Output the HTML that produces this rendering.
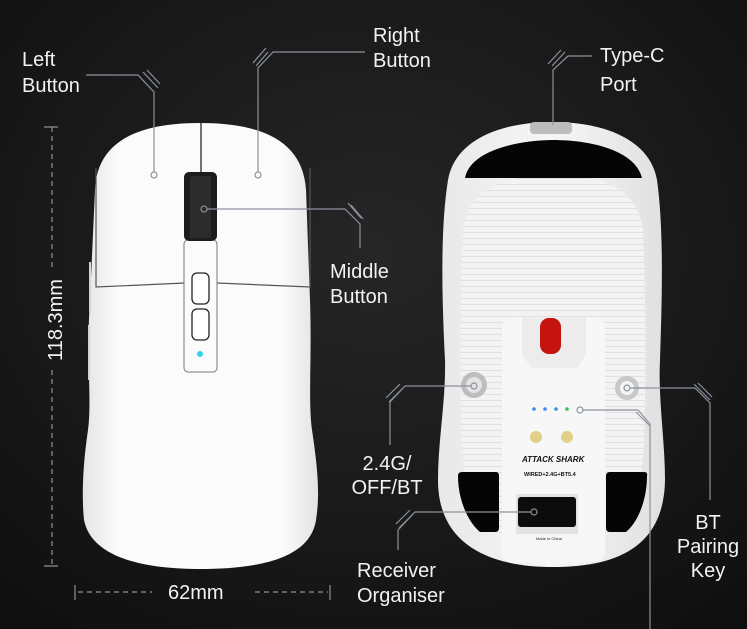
<!DOCTYPE html>
<html><head><meta charset="utf-8"><style>
html,body{margin:0;padding:0;background:#141414;}
svg{display:block}
text{font-family:"Liberation Sans",sans-serif;fill:#f2f2f2;font-size:20px}
</style></head><body>
<svg width="747" height="629" viewBox="0 0 747 629" xmlns="http://www.w3.org/2000/svg">
<defs>
<radialGradient id="bg" cx="0.5" cy="0.4" r="0.8">
<stop offset="0" stop-color="#262626"/><stop offset="1" stop-color="#0e0e0e"/></radialGradient>
<linearGradient id="lm" x1="0" x2="1"><stop offset="0" stop-color="#e4e4e4"/><stop offset="0.15" stop-color="#fbfbfb"/><stop offset="0.85" stop-color="#fbfbfb"/><stop offset="1" stop-color="#e2e2e2"/></linearGradient>
<linearGradient id="rm" x1="0" x2="1"><stop offset="0" stop-color="#e8e8e8"/><stop offset="0.5" stop-color="#f6f6f6"/><stop offset="1" stop-color="#e0e0e0"/></linearGradient>
<pattern id="stripes" width="10" height="6" patternUnits="userSpaceOnUse"><rect width="10" height="6" fill="#f3f3f3"/><rect y="4" width="10" height="1" fill="#e0e0e0"/></pattern>
</defs>
<rect width="747" height="629" fill="url(#bg)"/>

<!-- left mouse -->
<path d="M200 123 C140 123 97 140 95 190 L90 300 C86 360 92 400 88 430 C82 470 82 500 84 520 C92 560 150 569 200 569 C255 569 310 560 316 520 C320 495 318 470 312 430 C308 400 312 360 310 300 L306 190 C303 140 260 123 200 123 Z" fill="url(#lm)"/>
<path d="M96 168 L96 287 L185 283 M310 168 L310 287 L217 283" fill="none" stroke="#555" stroke-width="1.2"/>
<line x1="201" y1="123" x2="201" y2="172" stroke="#444" stroke-width="1.5"/>
<path d="M90 262 V312 M89 325 V380" stroke="#d4d4d4" stroke-width="2"/>
<rect x="184" y="240" width="33" height="132" rx="4" fill="#fbfbfb" stroke="#777" stroke-width="1"/>
<rect x="184" y="172" width="33" height="69" rx="5" fill="#1d1d1d"/>
<rect x="190" y="176" width="21" height="62" fill="#2c2c2c"/>
<rect x="192" y="273" width="17" height="31" rx="5" fill="#fff" stroke="#222" stroke-width="1.3"/>
<rect x="192" y="309" width="17" height="31" rx="5" fill="#fff" stroke="#222" stroke-width="1.3"/>
<circle cx="200" cy="354" r="3" fill="#2fd3e6"/>

<!-- right mouse -->
<path d="M553 122 C500 122 455 140 448 180 C440 230 442 300 445 360 C446 400 438 440 438 480 C438 545 490 567 553 567 C620 567 664 545 665 480 C665 440 658 400 660 360 C662 300 664 230 657 180 C650 140 605 122 553 122 Z" fill="url(#rm)"/>
<path d="M553 175 C500 175 468 190 463 230 C460 300 460 380 462 440 C464 520 500 550 553 550 C606 550 642 520 644 440 C646 380 646 300 643 230 C638 190 606 175 553 175 Z" fill="url(#stripes)"/>
<rect x="530" y="122" width="42" height="12" rx="4" fill="#bdbdbd"/>
<path d="M465 178 C470 150 520 140 553 140 C590 140 635 150 642 178 Z" fill="#050505"/>
<rect x="502" y="318" width="103" height="244" rx="10" fill="#f7f7f7"/>
<path d="M522 318 L522 355 L532 368 L577 368 L586 355 L586 318 Z" fill="#ececec"/>
<rect x="540" y="318" width="21" height="36" rx="9" fill="#c4130f"/>
<circle cx="474" cy="385" r="13" fill="#bdbdbd"/><circle cx="474" cy="385" r="8" fill="#e3e3e3"/>
<circle cx="627" cy="388" r="12" fill="#c8c8c8"/><circle cx="627" cy="388" r="7" fill="#f5f5f5"/>
<circle cx="534" cy="409" r="1.8" fill="#3b8be6"/><circle cx="545" cy="409" r="1.8" fill="#3b8be6"/><circle cx="556" cy="409" r="1.8" fill="#3b8be6"/><circle cx="567" cy="409" r="1.8" fill="#33c25a"/>
<circle cx="536" cy="437" r="6" fill="#e2cf8a"/><circle cx="567" cy="437" r="6" fill="#e2cf8a"/>
<text x="522" y="462" style="font-size:8px;fill:#111;font-weight:bold;font-style:italic">ATTACK SHARK</text>
<text x="524" y="476" style="font-size:5.5px;fill:#111;font-weight:bold">WIRED+2.4G+BT5.4</text>
<text x="536" y="540" style="font-size:4px;fill:#222">Made in China</text>
<path d="M458 476 Q458 472 462 472 L496 472 Q499 472 499 476 L499 528 Q499 532 495 532 L480 532 C468 522 458 500 458 476 Z" fill="#050505"/>
<path d="M606 476 Q606 472 610 472 L644 472 Q648 472 647 476 C647 500 638 522 626 532 L610 532 Q606 532 606 528 Z" fill="#050505"/>
<rect x="516" y="494" width="62" height="40" fill="#e2e2e2"/>
<rect x="518" y="497" width="58" height="30" rx="3" fill="#0c0c0c"/>

<!-- leaders -->
<g fill="none" stroke="#8a929c" stroke-width="1.2">
<circle cx="154" cy="175" r="3"/><path d="M154 172 V92 L138 75 H86"/><path d="M143 72 L158 88 M147 70 L160 84"/>
<circle cx="258" cy="175" r="3"/><path d="M258 172 V68 L273 52 H365"/><path d="M253 63 L266 48 M256 66 L268 52"/>
<circle cx="204" cy="209" r="3"/><path d="M207 209 H345 L360 224 V248"/><path d="M348 203 L361 218 M351 205 L363 219"/>
<path d="M553 125 V70 L568 56 H592"/><path d="M548 64 L561 50 M552 66 L565 52"/>
<circle cx="474" cy="386" r="3"/><path d="M471 386 H405 L390 402 V445"/><path d="M386 398 L400 384 M389 402 L403 388"/>
<circle cx="627" cy="388" r="3"/><path d="M630 388 H695 L710 403 V500"/><path d="M694 384 L710 400 M698 383 L712 397"/>
<circle cx="580" cy="410" r="3"/><path d="M583 410 H638 L650 424 V629"/><path d="M636 412 L650 426"/>
<circle cx="534" cy="512" r="3"/><path d="M531 512 H415 L398 530 V550"/><path d="M396 524 L410 510 M399 528 L413 514"/>
</g>
<!-- dimensions -->
<g stroke="#8a929c" stroke-width="1.2" fill="none">
<path d="M52 127 V270 M52 370 V566" stroke-dasharray="5 4"/><path d="M44 127 H58 M44 566 H58"/>
<path d="M78 592 H152 M255 592 H328" stroke-dasharray="5 4"/><path d="M75 585 V600 M330 585 V600"/>
</g>
<text x="0" y="0" transform="translate(62 320) rotate(-90)" text-anchor="middle">118.3mm</text>

<text x="168" y="599">62mm</text>
<text x="22" y="66">Left</text><text x="22" y="92">Button</text>
<text x="373" y="42">Right</text><text x="373" y="67">Button</text>
<text x="600" y="62">Type-C</text><text x="600" y="91">Port</text>
<text x="330" y="278">Middle</text><text x="330" y="303">Button</text>
<text x="387" y="470" text-anchor="middle">2.4G/</text><text x="387" y="494" text-anchor="middle">OFF/BT</text>
<text x="357" y="577">Receiver</text><text x="357" y="602">Organiser</text>
<text x="708" y="529" text-anchor="middle">BT</text><text x="708" y="553" text-anchor="middle">Pairing</text><text x="708" y="577" text-anchor="middle">Key</text>
</svg>
</body></html>
